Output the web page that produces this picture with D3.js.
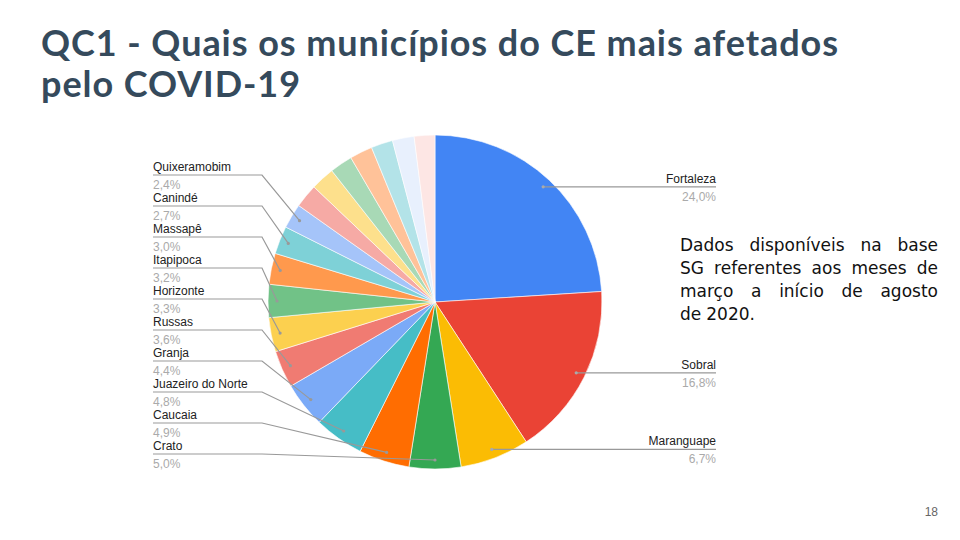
<!DOCTYPE html>
<html>
<head>
<meta charset="utf-8">
<script src="https://cdn.jsdelivr.net/npm/d3@7"></script>
<style>
  body { margin: 0; background: #fff; }
  svg { display: block; font-family: "Liberation Sans", Arial, sans-serif; }
</style>
</head>
<body>
<div id="chart"></div>
<script>
/* QC1 pie - municipios do CE */

const cities = ["Fortaleza", "Sobral", "Maranguape", "Crato", "Caucaia", "Juazeiro do Norte",
                "Granja", "Russas", "Horizonte", "Itapipoca", "Massapê", "Canindé", "Quixeramobim",
                "", "", "", "", "", "", ""];
const shares = [24.0, 16.8, 6.7, 5.0, 4.9, 4.8, 4.4, 3.6, 3.3, 3.2, 3.0, 2.7, 2.4,
                2.3, 2.3, 2.2, 2.2, 2.1, 2.1, 2.0];
const colors = ["#4285f4", "#ea4335", "#fbbc04", "#34a853", "#ff6d01", "#46bdc6",
                "#7baaf7", "#f07b72", "#fcd04f", "#71c287", "#ff994d", "#7ed1d7", "#a5c4f9",
                "#f6aaa5", "#fde08c", "#a8d9b6", "#ffc299", "#b3e3e8", "#e8f0fd", "#fde6e4"];
const rightLabels = ["Fortaleza", "Sobral", "Maranguape"];

const title = ["QC1 - Quais os municípios do CE mais afetados", "pelo COVID-19"];
const note = ["Dados disponíveis na base", "SG referentes aos meses de",
              "março a início de agosto", "de 2020."];
const pageNum = "18";

const width = 960, height = 540;
const cx = 435, cy = 302, radius = 167;

const data = cities.map((c, i) => ({ city: c, share: shares[i], color: colors[i] }));

const svg = d3.select("#chart").append("svg")
    .attr("width", width).attr("height", height)
    .attr("viewBox", [0, 0, width, height]);

// title
const titleText = svg.append("g")
    .attr("font-family", "Lato, 'Open Sans', sans-serif")
    .attr("font-weight", "bold")
    .attr("font-size", 36)
    .attr("fill", "#354a5c");
titleText.selectAll("text")
    .data(title)
    .join("text")
    .attr("x", 41)
    .attr("y", (d, i) => 56 + i * 41)
    .text(d => d);
// widen first line to the width it has in the slide
const t0 = titleText.select("text").node();
const extra = (797 - t0.getComputedTextLength()) / (title[0].length - 1);
titleText.attr("letter-spacing", extra);

const pie = d3.pie().sort(null).value(d => d.share);
const arcs = pie(data);
const arc = d3.arc().innerRadius(0).outerRadius(radius);
const anchorArc = d3.arc().innerRadius(158).outerRadius(158);

const g = svg.append("g").attr("transform", `translate(${cx},${cy})`);

g.selectAll("path")
    .data(arcs)
    .join("path")
    .attr("d", arc)
    .attr("fill", d => d.data.color)
    .attr("stroke", "#fff")
    .attr("stroke-width", 0.6);

// labels
const labelled = arcs.filter(d => d.data.city !== "");
const right = labelled.filter(d => rightLabels.includes(d.data.city));
const left = labelled.filter(d => !rightLabels.includes(d.data.city)).reverse();

const slotY = d3.scalePoint()
    .domain(left.map(d => d.data.city))
    .range([175, 454]);

const labels = svg.append("g").attr("font-size", 12);

right.forEach(d => {
    const [ax, ay] = anchorArc.centroid(d);
    const px = cx + ax, py = cy + ay;
    labels.append("line")
        .attr("x1", px).attr("y1", py).attr("x2", 716).attr("y2", py)
        .attr("stroke", "#999").attr("stroke-width", 1.2);
    labels.append("circle").attr("cx", px).attr("cy", py).attr("r", 1.6).attr("fill", "#aaa");
    labels.append("text").attr("x", 716).attr("y", py - 4)
        .attr("text-anchor", "end").attr("fill", "#222").text(d.data.city);
    labels.append("text").attr("x", 716).attr("y", py + 14)
        .attr("text-anchor", "end").attr("fill", "#aaa")
        .text(d.data.share.toFixed(1).replace(".", ",") + "%");
});

left.forEach(d => {
    const [ax, ay] = anchorArc.centroid(d);
    const px = cx + ax, py = cy + ay;
    const ly = slotY(d.data.city);
    labels.append("polyline")
        .attr("points", [[153, ly], [262, ly], [px, py]].map(p => p.join(",")).join(" "))
        .attr("fill", "none").attr("stroke", "#999").attr("stroke-width", 1.2);
    labels.append("circle").attr("cx", px).attr("cy", py).attr("r", 1.6).attr("fill", "#999");
    labels.append("text").attr("x", 153).attr("y", ly - 4)
        .attr("fill", "#222").text(d.data.city);
    labels.append("text").attr("x", 153).attr("y", ly + 14)
        .attr("fill", "#aaa")
        .text(d.data.share.toFixed(1).replace(".", ",") + "%");
});

// justified note on the right
const noteG = svg.append("g")
    .attr("font-family", "'DejaVu Sans', sans-serif")
    .attr("font-size", 17)
    .attr("fill", "#111");
const noteLeft = 680, noteRight = 938;
note.forEach((line, i) => {
    const y = 251 + i * 23;
    const words = line.split(" ");
    const ws = words.map(w => {
        const t = noteG.append("text").attr("y", y).text(w);
        return { t, w: t.node().getComputedTextLength() };
    });
    const last = i === note.length - 1;
    const total = d3.sum(ws, d => d.w);
    const gap = last ? 5 : (noteRight - noteLeft - total) / (words.length - 1);
    let x = noteLeft;
    ws.forEach(d => { d.t.attr("x", x); x += d.w + gap; });
});

svg.append("text")
    .attr("x", 938).attr("y", 516)
    .attr("text-anchor", "end")
    .attr("font-size", 12)
    .attr("fill", "#666")
    .text(pageNum);
</script>
</body>
</html>
